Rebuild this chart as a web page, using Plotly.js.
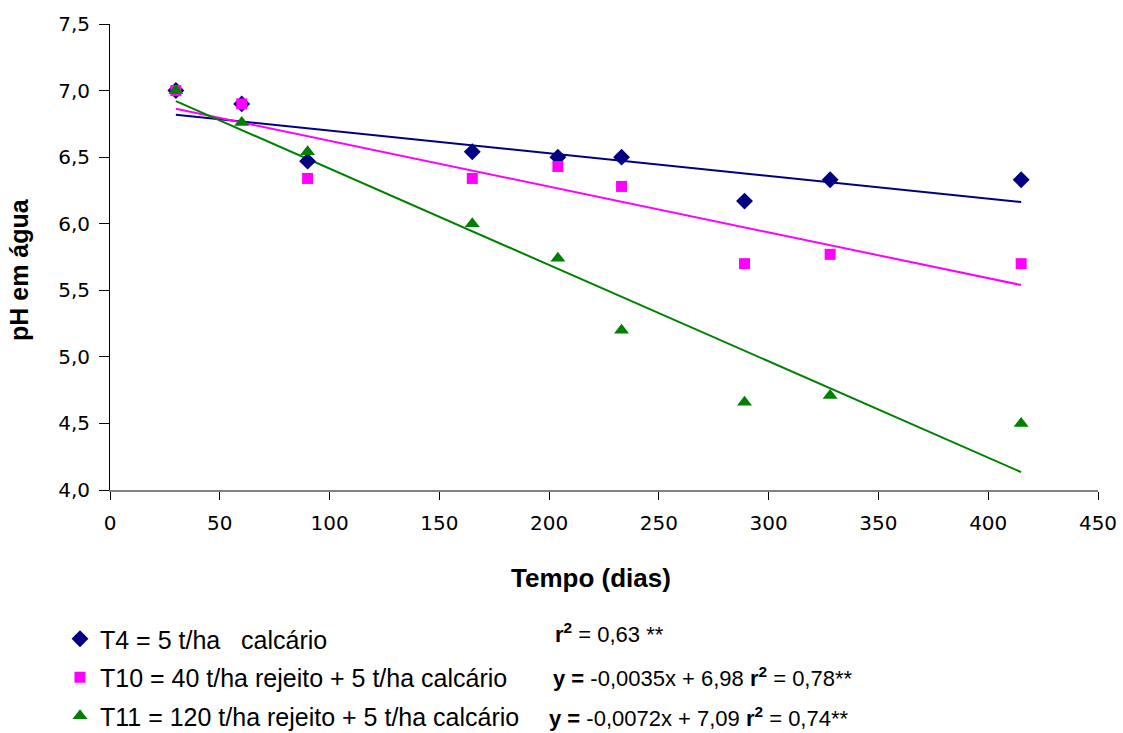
<!DOCTYPE html>
<html>
<head>
<meta charset="utf-8">
<script src="https://cdn.plot.ly/plotly-3.0.1.min.js"></script>
<style>html,body{margin:0;padding:0;background:#fff;}#chart{width:1123px;height:733px;}</style>
</head>
<body>
<div id="chart"></div>
<script>
// Days
var dias = [30, 60, 90, 165, 204, 233, 289, 328, 415];
// pH values per treatment
var phT4  = [7.00, 6.90, 6.47, 6.54, 6.50, 6.50, 6.17, 6.33, 6.33];
var phT10 = [7.00, 6.90, 6.34, 6.34, 6.43, 6.28, 5.70, 5.77, 5.70];
var phT11 = [7.00, 6.76, 6.54, 6.00, 5.74, 5.20, 4.66, 4.71, 4.50];
var nomes = ['T4 = 5 t/ha   calcário', 'T10 = 40 t/ha rejeito + 5 t/ha calcário', 'T11 = 120 t/ha rejeito + 5 t/ha calcário'];
var cores = ['#000080', '#FF00FF', '#008000'];
var simbolos = ['diamond', 'square', 'triangle-up'];
var tamanhos = [13, 11, 13];
var equacoes = ['<b>r<sup>2</sup></b> = 0,63 **',
                '<b>y =</b> -0,0035x + 6,98 <b>r<sup>2</sup></b> = 0,78**',
                '<b>y =</b> -0,0072x + 7,09 <b>r<sup>2</sup></b> = 0,74**'];
var yTicks = [4.0, 4.5, 5.0, 5.5, 6.0, 6.5, 7.0, 7.5];
var xTicks = [0, 50, 100, 150, 200, 250, 300, 350, 400, 450];
var tituloX = 'Tempo (dias)';
var tituloY = 'pH em água';

function regress(x, y) {
  var n = x.length, mx = 0, my = 0;
  for (var i = 0; i < n; i++) { mx += x[i]; my += y[i]; }
  mx /= n; my /= n;
  var sxy = 0, sxx = 0;
  for (var j = 0; j < n; j++) { sxy += (x[j]-mx)*(y[j]-my); sxx += (x[j]-mx)*(x[j]-mx); }
  var b = sxy / sxx, a = my - b*mx;
  return {a: a, b: b};
}

var series = [phT4, phT10, phT11];
var traces = [];
var font = 'Liberation Sans, Arial, sans-serif';
var tickFont = 'DejaVu Sans, Liberation Sans, sans-serif';
series.forEach(function (ys, k) {
  var r = regress(dias, ys);
  var x0 = Math.min.apply(null, dias), x1 = Math.max.apply(null, dias);
  traces.push({
    x: [x0, x1], y: [r.a + r.b*x0, r.a + r.b*x1],
    mode: 'lines', line: {color: cores[k], width: 2},
    showlegend: false, hoverinfo: 'skip'
  });
});
series.forEach(function (ys, k) {
  traces.push({
    x: dias, y: ys, name: nomes[k], mode: 'markers',
    legendgroup: 'g' + k,
    marker: {symbol: simbolos[k], size: tamanhos[k], color: cores[k]}
  });
});

// pixel helpers relative to the plot area (l=110, w=988, t=24, h=466)
function px(x) { return (x - 110) / 988; }
function py(y) { return 1 - (y - 24) / 466; }

var annotations = [];
var eqY = [633, 677, 717];
var eqX = [553, 551, 547];
equacoes.forEach(function (t, k) {
  annotations.push({
    text: t, xref: 'paper', yref: 'paper',
    x: px(eqX[k]), y: py(eqY[k]),
    xanchor: 'left', yanchor: 'middle', showarrow: false,
    font: {family: font, size: 22, color: '#000'}
  });
});
annotations.push({
  text: '<b>' + tituloY + '</b>', xref: 'paper', yref: 'paper',
  x: px(19), y: py(270), textangle: -90, xanchor: 'center', yanchor: 'middle',
  showarrow: false, font: {family: font, size: 25, color: '#000'}
});
annotations.push({
  text: '<b>' + tituloX + '</b>', xref: 'paper', yref: 'paper',
  x: px(591), y: py(578), xanchor: 'center', yanchor: 'middle',
  showarrow: false, font: {family: font, size: 26, color: '#000'}
});

var layout = {
  width: 1123, height: 733,
  margin: {l: 110, r: 25, t: 24, b: 243, autoexpand: false},
  paper_bgcolor: '#fff', plot_bgcolor: '#fff',
  separators: ',.',
  font: {family: font, size: 19, color: '#000'},
  xaxis: {
    range: [0, 450], tickvals: xTicks, ticktext: xTicks.map(String),
    showgrid: false, zeroline: false, showline: true, linecolor: '#808080', linewidth: 2,
    ticks: 'outside', ticklen: 8, tickcolor: '#000', tickwidth: 1,
    ticklabelstandoff: 6,
    tickfont: {family: tickFont, size: 20}
  },
  yaxis: {
    range: [4.0, 7.5], tickvals: yTicks, tickformat: '.1f',
    showgrid: false, zeroline: false, showline: true, linecolor: '#000', linewidth: 1,
    ticks: 'outside', ticklen: 10, tickcolor: '#000', tickwidth: 1,
    ticklabelstandoff: 5,
    tickfont: {family: tickFont, size: 20}
  },
  showlegend: true,
  legend: {
    xref: 'container', yref: 'container',
    x: 60 / 1123, y: 1 - 616 / 733, xanchor: 'left', yanchor: 'top',
    traceorder: 'grouped', tracegroupgap: 3,
    font: {family: font, size: 25, color: '#000'},
    bgcolor: 'rgba(0,0,0,0)', borderwidth: 0
  },
  annotations: annotations
};

Plotly.newPlot('chart', traces, layout, {displayModeBar: false, staticPlot: true});
</script>
</body>
</html>
